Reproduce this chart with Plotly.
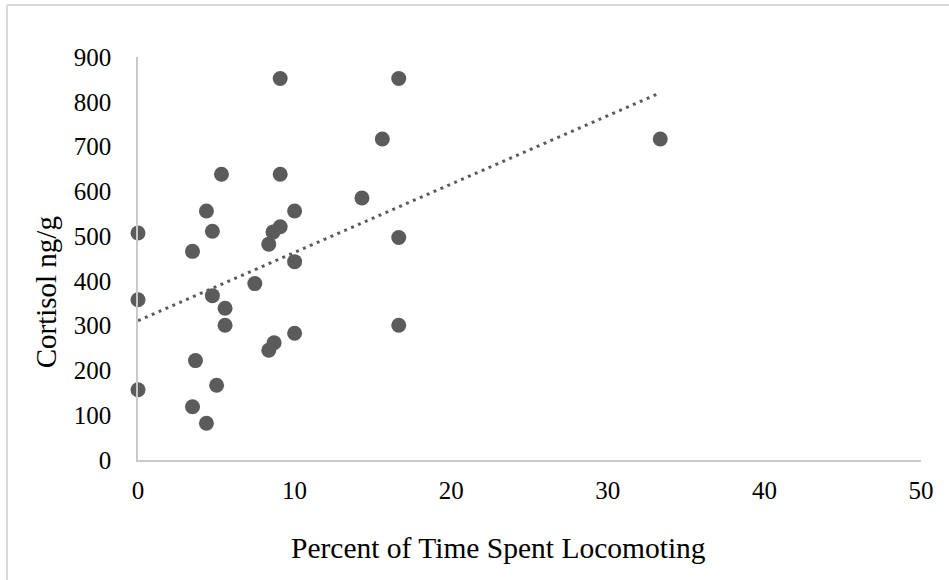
import numpy as np
import plotly.graph_objects as go

# Percent of time spent locomoting (x) and cortisol ng/g (y)
locomoting_pct = [0, 0, 0, 3.48, 3.48, 3.67, 4.37, 4.37, 4.75, 4.75, 5.02, 5.33,
                  5.56, 5.56, 7.46, 8.35, 8.35, 8.62, 8.69, 9.08, 9.08, 9.08,
                  10.0, 10.0, 10.0, 14.3, 15.6, 16.65, 16.65, 16.65, 33.35]
cortisol = [507, 358, 157, 466, 119, 222, 556, 82, 511, 367, 167, 638,
            339, 301, 394, 482, 245, 509, 262, 852, 638, 521,
            556, 443, 283, 585, 717, 852, 497, 301, 717]

x_ticks = [0, 10, 20, 30, 40, 50]
y_ticks = [0, 100, 200, 300, 400, 500, 600, 700, 800, 900]

x_title = "Percent of Time Spent Locomoting"
y_title = "Cortisol ng/g"

# Linear trendline (least squares), spanning the data range
slope, intercept = np.polyfit(locomoting_pct, cortisol, 1)
trend_x = [min(locomoting_pct), max(locomoting_pct)]
trend_y = [intercept + slope * v for v in trend_x]

MARK = "#5b5b5b"
AXIS = "#c9c9c9"
FONT = "Liberation Serif, Times New Roman, serif"

fig = go.Figure()
fig.add_trace(go.Scatter(
    x=trend_x, y=trend_y, mode="lines",
    line=dict(color=MARK, width=3, dash="3px,4.5px"),
    hoverinfo="skip", showlegend=False, cliponaxis=False,
))
fig.add_trace(go.Scatter(
    x=locomoting_pct, y=cortisol, mode="markers",
    marker=dict(color=MARK, size=15, line=dict(width=0)),
    showlegend=False, cliponaxis=False,
))

fig.update_layout(
    width=949, height=580,
    margin=dict(l=138, r=28, t=57, b=120),
    paper_bgcolor="white", plot_bgcolor="white",
    font=dict(family=FONT, color="#000000"),
    xaxis=dict(
        range=[0, 50], tickvals=x_ticks, ticktext=[str(v) for v in x_ticks],
        showgrid=False, zeroline=False, showline=True, linecolor=AXIS, linewidth=1.5,
        ticks="", tickfont=dict(size=25, family=FONT), ticklabelstandoff=7,
    ),
    yaxis=dict(
        range=[0, 900], tickvals=y_ticks, ticktext=[str(v) for v in y_ticks],
        showgrid=False, zeroline=False, showline=True, linecolor=AXIS, linewidth=1.5,
        ticks="", tickfont=dict(size=25, family=FONT), ticklabelstandoff=20,
    ),
    annotations=[
        dict(text=x_title, xref="paper", yref="paper", x=0.461, y=-0.218,
             xanchor="center", yanchor="middle", showarrow=False,
             font=dict(size=29.5, family=FONT, color="#000000")),
        dict(text=y_title, xref="paper", yref="paper", x=-0.118, y=0.415,
             xanchor="center", yanchor="middle", showarrow=False, textangle=-90,
             font=dict(size=29, family=FONT, color="#000000")),
    ],
    shapes=[
        dict(type="line", xref="paper", yref="paper", x0=-0.1673, x1=1.1, y0=1.129, y1=1.129,
             line=dict(color="#d9d9d9", width=2)),
        dict(type="line", xref="paper", yref="paper", x0=-0.1673, x1=-0.1673, y0=1.129, y1=-0.35,
             line=dict(color="#d9d9d9", width=2)),
    ],
)

fig.write_html("out.html")
